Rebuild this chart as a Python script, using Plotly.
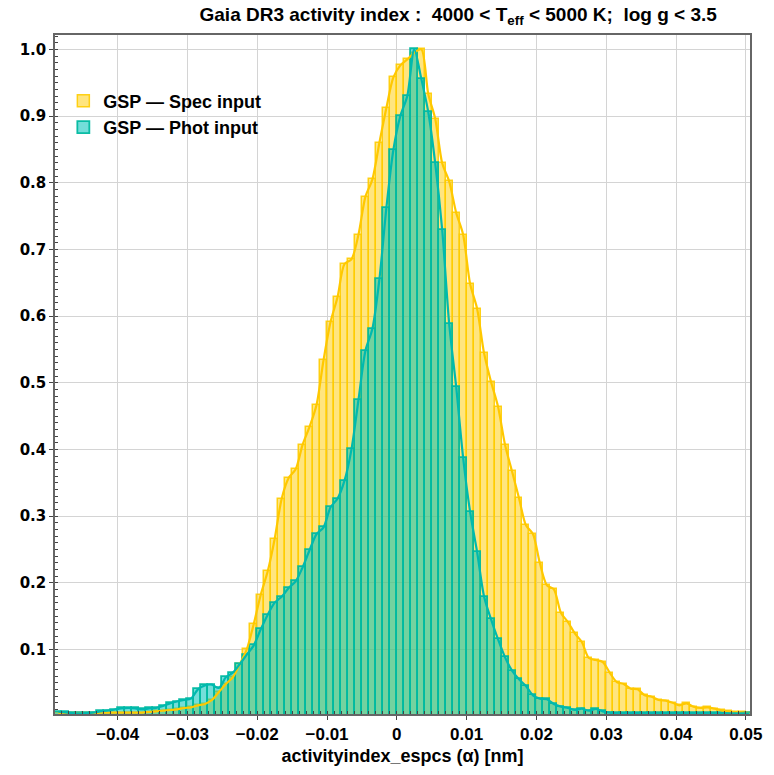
import plotly.graph_objects as go

# bin index k: bin spans [k*0.001, (k+1)*0.001]
bin_index = list(range(-49, 51))
bin_width = 0.001

spec_input = [
    0.004, 0.004, 0.004, 0.004, 0.004, 0.004, 0.005, 0.005, 0.005, 0.005,   # -49..-40
    0.005, 0.005, 0.005, 0.006, 0.007, 0.008, 0.009, 0.010, 0.012, 0.013,   # -39..-30
    0.016, 0.018, 0.024, 0.036, 0.048, 0.058, 0.078, 0.100, 0.138, 0.182,   # -29..-20
    0.217, 0.266, 0.326, 0.357, 0.370, 0.407, 0.434, 0.467, 0.534, 0.591,   # -19..-10
    0.628, 0.678, 0.685, 0.722, 0.779, 0.805, 0.860, 0.912, 0.958,          # -9..-1
    0.976, 0.985, 0.995, 1.000, 0.933, 0.896, 0.829, 0.802, 0.755, 0.722,   # 0..9
    0.648, 0.611, 0.544, 0.501, 0.464, 0.407, 0.367, 0.327, 0.286, 0.273,   # 10..19
    0.229, 0.196, 0.190, 0.155, 0.141, 0.124, 0.111, 0.087, 0.084, 0.081,   # 20..29
    0.065, 0.051, 0.048, 0.041, 0.040, 0.031, 0.029, 0.024, 0.023, 0.020,   # 30..39
    0.016, 0.019, 0.014, 0.012, 0.013, 0.011, 0.0085, 0.007, 0.006, 0.0055, # 40..49
    0.0045,                                                                 # 50
]

phot_input = [
    0.0064, 0.0054, 0.0044, 0.0040, 0.0044, 0.0050, 0.0070, 0.0080, 0.0094, 0.0113,  # -49..-40
    0.0120, 0.0113, 0.0099, 0.0113, 0.0120, 0.0150, 0.0190, 0.0217, 0.0240, 0.0260,  # -39..-30
    0.040, 0.046, 0.047, 0.042, 0.058, 0.065, 0.078, 0.092, 0.106, 0.130,            # -29..-20
    0.152, 0.170, 0.179, 0.192, 0.202, 0.223, 0.249, 0.273, 0.283, 0.313,            # -19..-10
    0.326, 0.353, 0.400, 0.474, 0.548, 0.581, 0.655, 0.762, 0.849,                   # -9..-1
    0.900, 0.930, 1.000, 0.956, 0.906, 0.829, 0.729, 0.588, 0.494, 0.387,            # 0..9
    0.306, 0.246, 0.179, 0.145, 0.115, 0.088, 0.068, 0.055, 0.045, 0.031,            # 10..19
    0.026, 0.025, 0.018, 0.014, 0.012, 0.009, 0.011, 0.008, 0.0105, 0.007,           # 20..29
    0.005, 0.004, 0.004, 0.0045, 0.004, 0.004, 0.0045, 0.004, 0.004, 0.004,          # 30..39
    0.004, 0.004, 0.004, 0.004, 0.004, 0.004, 0.004, 0.004, 0.004, 0.004,            # 40..49
    0.004,                                                                           # 50
]

x_ticks = [-0.04, -0.03, -0.02, -0.01, 0, 0.01, 0.02, 0.03, 0.04, 0.05]
x_tick_labels = ["\u22120.04", "\u22120.03", "\u22120.02", "\u22120.01", "0",
                 "0.01", "0.02", "0.03", "0.04", "0.05"]
y_ticks = [0.1, 0.2, 0.3, 0.4, 0.5, 0.6, 0.7, 0.8, 0.9, 1.0]
y_tick_labels = ["0.1", "0.2", "0.3", "0.4", "0.5", "0.6", "0.7", "0.8", "0.9", "1.0"]

centers = [(k + 0.5) * bin_width for k in bin_index]

tex_font = "Liberation Sans, Arial, sans-serif"

fig = go.Figure()

fig.add_trace(go.Bar(
    x=centers, y=spec_input, width=bin_width,
    name="<b>GSP \u2014 Spec input</b>",
    marker=dict(color="rgba(255,204,0,0.5)",
                line=dict(color="rgba(255,204,0,0.9)", width=1.5)),
    legendrank=1,
))
fig.add_trace(go.Scatter(
    x=centers, y=spec_input, mode="lines",
    line=dict(color="rgb(255,200,0)", width=2.2, shape="spline", smoothing=0.8),
    showlegend=False, hoverinfo="skip",
))
fig.add_trace(go.Bar(
    x=centers, y=phot_input, width=bin_width,
    name="<b>GSP \u2014 Phot input</b>",
    marker=dict(color="rgba(0,195,185,0.55)",
                line=dict(color="rgba(0,185,160,0.95)", width=1.8)),
    legendrank=2,
))
fig.add_trace(go.Scatter(
    x=centers, y=phot_input, mode="lines",
    line=dict(color="rgb(0,185,175)", width=2.2, shape="spline", smoothing=0.8),
    showlegend=False, hoverinfo="skip",
))

fig.update_layout(
    width=774, height=775,
    margin=dict(l=55, r=17, t=35, b=55),
    paper_bgcolor="white", plot_bgcolor="white",
    barmode="overlay", bargap=0,
    title=dict(
        text="<b>Gaia DR3 activity index :  4000 &lt; T<sub>eff</sub> &lt; 5000 K;  log g &lt; 3.5</b>",
        x=0.592, xanchor="center", y=0.982, yanchor="middle",
        font=dict(family=tex_font, size=19, color="black"),
    ),
    legend=dict(
        x=0.012, y=0.93, xanchor="left", yanchor="top",
        bgcolor="rgba(255,255,255,0)",
        font=dict(family=tex_font, size=18, color="black"),
        itemwidth=30, tracegroupgap=0,
    ),
    showlegend=True,
)

fig.update_xaxes(
    range=[-0.04898, 0.0506],
    tickmode="array", tickvals=x_ticks, ticktext=x_tick_labels,
    tickfont=dict(family=tex_font, size=17, color="black", weight="bold"),
    showgrid=True, gridcolor="#d4d4d4", gridwidth=1,
    zeroline=False,
    showline=True, linecolor="#666666", linewidth=1.5, mirror=True,
    ticks="outside", ticklen=4, tickcolor="#444444",
    minor=dict(dtick=0.001, tick0=0, ticks="inside", ticklen=3, tickcolor="#444444", showgrid=False),
    title=dict(text="<b>activityindex_espcs (\u03b1) [nm]</b>",
               font=dict(family=tex_font, size=18, color="black"), standoff=6),
)
fig.update_yaxes(
    range=[0.003, 1.0215],
    tickmode="array", tickvals=y_ticks, ticktext=y_tick_labels,
    tickfont=dict(family="DejaVu Sans", size=15, color="black", weight="bold"),
    showgrid=True, gridcolor="#d4d4d4", gridwidth=1,
    zeroline=False,
    showline=True, linecolor="#666666", linewidth=1.5, mirror=True,
    ticks="outside", ticklen=4, tickcolor="#444444",
    minor=dict(dtick=0.01, tick0=0, ticks="inside", ticklen=3, tickcolor="#444444", showgrid=False),
)

fig.write_html("out.html")
